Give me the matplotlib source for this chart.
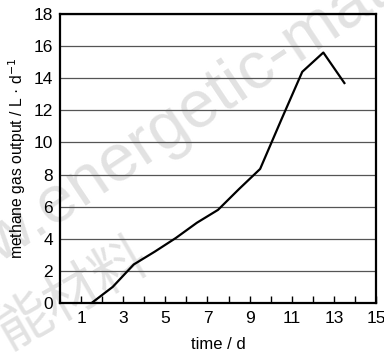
import matplotlib
matplotlib.use("Agg")
import matplotlib.pyplot as plt

# methane output vs time
days = [1.5, 2.5, 3.5, 4.5, 5.5, 6.5, 7.5, 8.5, 9.5, 10.5, 11.5, 12.5, 13.5]
output = [0.0, 1.0, 2.4, 3.2, 4.05, 5.0, 5.8, 7.1, 8.35, 11.4, 14.4, 15.6, 13.7]
x_labels = [1, 3, 5, 7, 9, 11, 13, 15]
y_labels = [0, 2, 4, 6, 8, 10, 12, 14, 16, 18]

plt.rcParams["font.family"] = ["Liberation Sans Narrow", "Liberation Sans", "DejaVu Sans"]

fig = plt.figure(figsize=(3.84, 3.59), dpi=100)
ax = fig.add_axes([60 / 384, 1 - 303 / 359, 316 / 384, 289 / 359])
ax.patch.set_alpha(0)

ax.plot(days, output, color="black", lw=1.6, zorder=3)

ax.set_xlim(0, 15)
ax.set_ylim(0, 18)
ax.set_xticks(x_labels)
ax.set_xticks(range(2, 15, 2), minor=True)
ax.set_yticks(y_labels)
ax.tick_params(axis="x", which="both", direction="in", length=5, width=1,
               labelsize=12.5, pad=6)
ax.tick_params(axis="y", length=0, labelsize=12.5, pad=5)
ax.grid(axis="y", color="#555555", lw=0.9)
ax.set_axisbelow(True)
for s in ax.spines.values():
    s.set_linewidth(1.6)

ax.set_xlabel("time / d", fontsize=12, labelpad=8)
ax.set_ylabel("methane gas output / L \u00b7 d$^{-1}$", fontsize=11.3, labelpad=4)

# faint watermark behind the axes
fig.text(-0.21, 0.115, "www.energetic-materials", fontsize=48, color="#e2e2e2",
         rotation=33.8, rotation_mode="anchor", ha="left", va="baseline",
         zorder=-1, family="Liberation Sans")
fig.text(0.19, 0.18, "能材料", fontsize=40, color="#e2e2e2", rotation=30,
         rotation_mode="anchor", ha="center", va="center", zorder=-1,
         family=["Noto Sans CJK SC", "DejaVu Sans"])

fig.savefig("out.png", dpi=100)
